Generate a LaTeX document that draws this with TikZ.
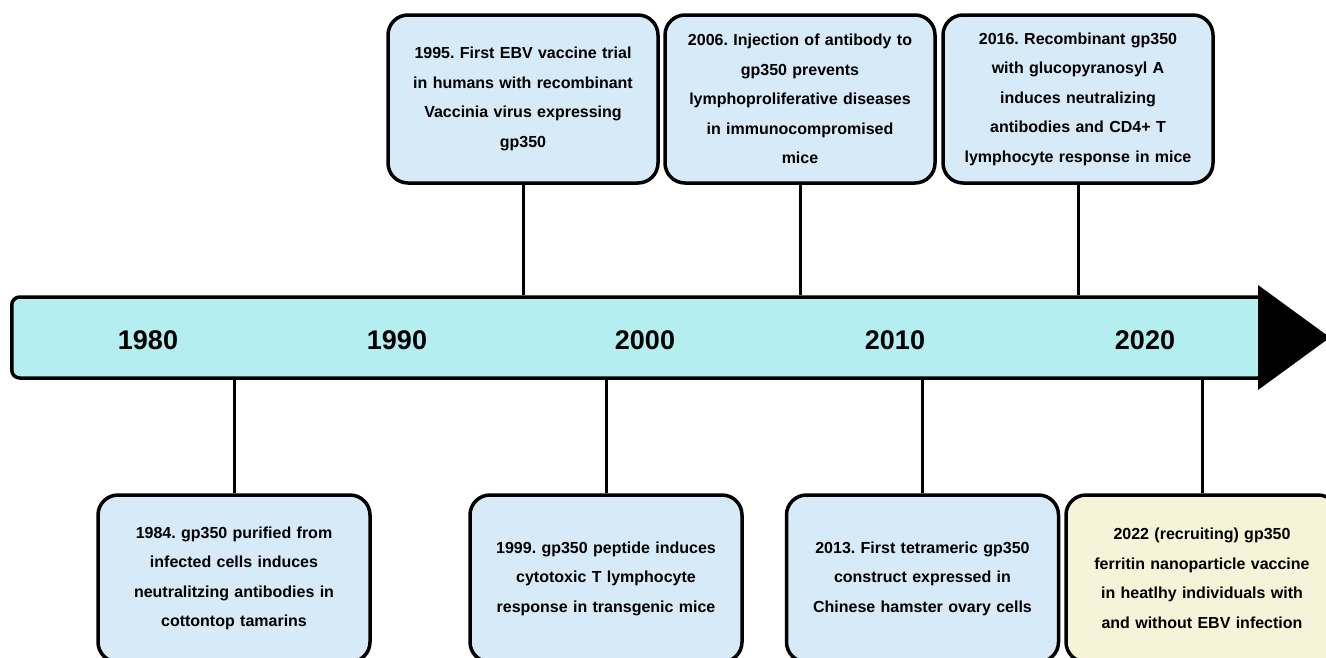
\documentclass[tikz,border=0pt]{standalone}
\usepackage{fontspec}
\setmainfont{Liberation Sans}
\definecolor{barfill}{HTML}{B4EEF0}
\definecolor{boxfill}{HTML}{D7EAF8}
\definecolor{yelfill}{HTML}{F6F4D8}
\begin{document}
\frenchspacing
\begin{tikzpicture}[x=1pt,y=-1pt,
  evbox/.style={draw=black, line width=3.5pt, fill=boxfill, rounded corners=20pt,
    minimum width=270pt, minimum height=168pt, inner sep=0pt, text width=262pt, align=center,
    font=\fontsize{16}{29.5}\selectfont\bfseries},
  yearlab/.style={font=\fontsize{27}{30}\selectfont\bfseries, inner sep=0pt},
  conn/.style={draw=black, line width=3pt}]
\useasboundingbox (0,0) rectangle (1326,657);
\clip (0,0) rectangle (1326,657);
\fill[white] (0,0) rectangle (1326,657);
% bar
\node[draw=black, line width=3.5pt, fill=barfill, rounded corners=8pt, minimum width=1254pt,
  minimum height=81pt, inner sep=0pt, anchor=west] (bar) at (10,337.5) {};
\coordinate (tipA) at (1258,285);
\coordinate (tipB) at (1258,390);
\coordinate (tip) at (1330,337.5);
\fill[black] (tipA) -- (tip) -- (tipB) -- cycle;
% years
\node[yearlab] (y1980) at (148,340) {1980};
\node[yearlab] (y1990) at (397,340) {1990};
\node[yearlab] (y2000) at (645,340) {2000};
\node[yearlab] (y2010) at (895,340) {2010};
\node[yearlab] (y2020) at (1145,340) {2020};
% top boxes
\node[evbox] (e1995) at (523,99) {1995. First EBV vaccine trial\\in humans with recombinant\\Vaccinia virus expressing\\gp350};
\node[evbox] (e2006) at (800,99) {2006. Injection of antibody to\\gp350 prevents\\lymphoproliferative diseases\\in immunocompromised\\mice};
\node[evbox] (e2016) at (1078,99) {2016. Recombinant gp350\\with glucopyranosyl A\\induces neutralizing\\antibodies and CD4+ T\\lymphocyte response in mice};
% bottom boxes
\node[evbox, minimum width=272pt, minimum height=167pt] (e1984) at (234,578.5) {1984. gp350 purified from\\infected cells induces\\neutralitzing antibodies in\\cottontop tamarins};
\node[evbox, minimum width=272pt, minimum height=167pt] (e1999) at (606,578.5) {1999. gp350 peptide induces\\cytotoxic T lymphocyte\\response in transgenic mice};
\node[evbox, minimum width=272pt, minimum height=167pt] (e2013) at (922.5,578.5) {2013. First tetrameric gp350\\construct expressed in\\Chinese hamster ovary cells};
\node[evbox, fill=yelfill, minimum width=272pt, minimum height=167pt] (e2022) at (1202,578.5) {2022 (recruiting) gp350\\ferritin nanoparticle vaccine\\in heatlhy individuals with\\and without EBV infection};
% connectors
\draw[conn] (e1995.south) -- (e1995.south |- bar.north);
\draw[conn] (e2006.south) -- (e2006.south |- bar.north);
\draw[conn] (e2016.south) -- (e2016.south |- bar.north);
\draw[conn] (e1984.north) -- (e1984.north |- bar.south);
\draw[conn] (e1999.north) -- (e1999.north |- bar.south);
\draw[conn] (e2013.north) -- (e2013.north |- bar.south);
\draw[conn] (e2022.north) -- (e2022.north |- bar.south);
\end{tikzpicture}
\end{document}
